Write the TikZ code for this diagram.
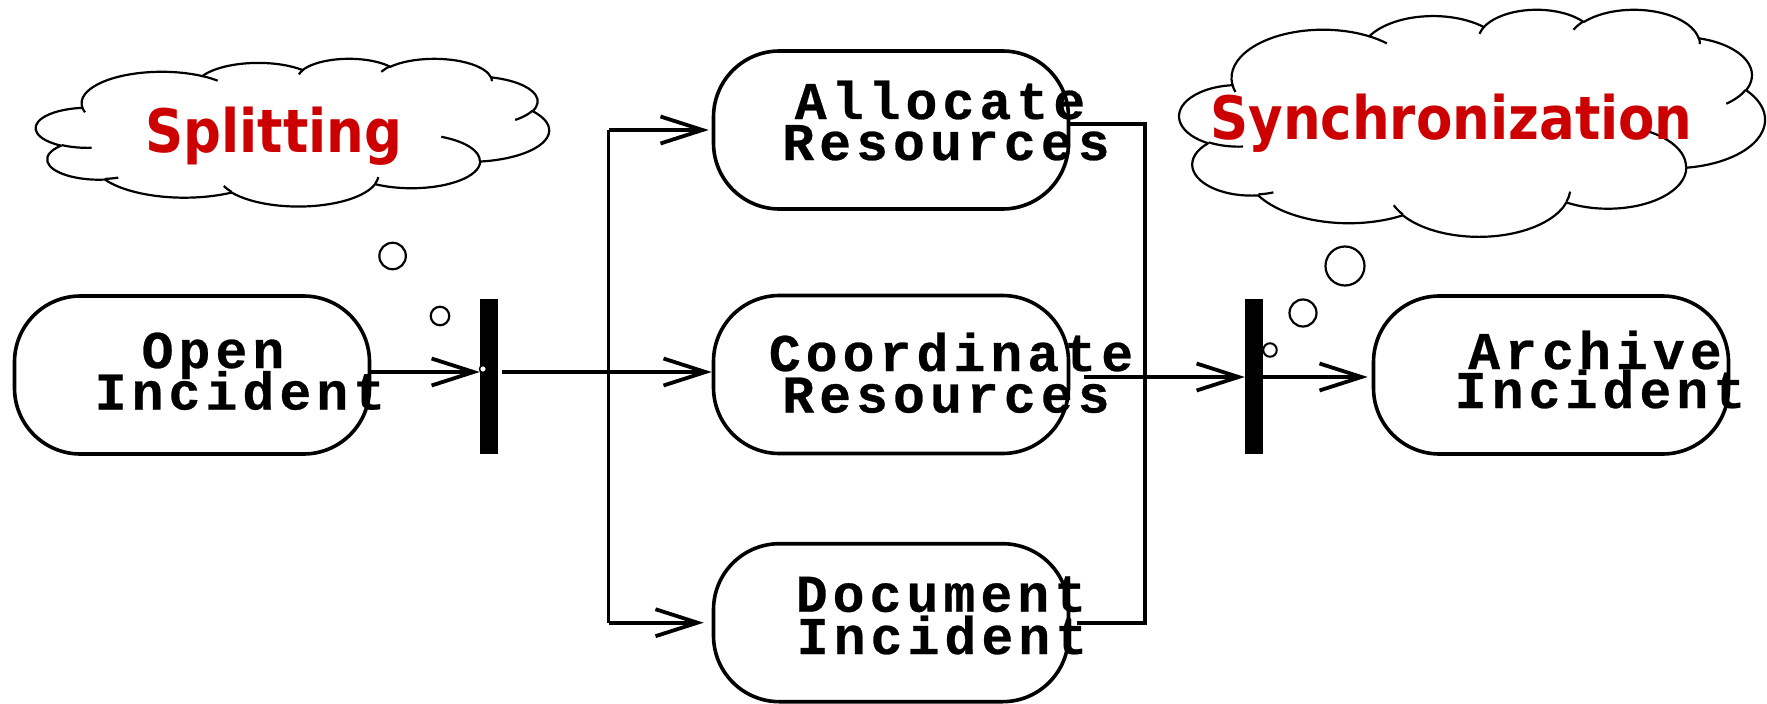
\documentclass[tikz,border=0pt]{standalone}
\usepackage{fontspec}
\usepackage{graphicx}
\newfontfamily\actfont[LetterSpace=9.7,BoldFeatures={FakeBold=0.5}]{Liberation Mono}
\newfontfamily\cloudfont{DejaVu Sans}
\usetikzlibrary{arrows.meta}
\definecolor{thinkred}{RGB}{204,0,0}
\tikzset{
  ooarc/.style n args={4}{x radius=#1, y radius=#2,
    start angle={atan2(#1*sin(#3),#2*cos(#3))},
    delta angle={atan2(#1*sin(#3+#4),#2*cos(#3+#4)) - atan2(#1*sin(#3),#2*cos(#3))
      - 360*round((atan2(#1*sin(#3+#4),#2*cos(#3+#4)) - atan2(#1*sin(#3),#2*cos(#3)) - (#4))/360)}},
  cloudline/.style={draw,line width=2.2pt,line join=round}
}
% Office-style cloud in a 43.2 x 43.2 box (y downwards)
\newcommand\oocloud{%
  \draw[cloudline,fill=white] (3.900,14.370)
    arc[ooarc={6.753}{9.190}{-190.4875}{123.7805}]
    arc[ooarc={5.333}{7.267}{-144.1024}{89.9452}]
    arc[ooarc={4.365}{5.945}{-145.8079}{99.7230}]
    arc[ooarc={4.857}{6.595}{-130.9861}{117.2417}]
    arc[ooarc={5.333}{7.273}{-78.7089}{109.0269}]
    arc[ooarc={6.775}{9.220}{-46.2673}{130.2690}]
    arc[ooarc={5.785}{7.867}{0.6250}{114.0333}]
    arc[ooarc={6.752}{9.215}{22.4516}{115.1726}]
    arc[ooarc={7.720}{10.543}{66.2426}{75.7110}]
    arc[ooarc={4.360}{5.918}{-274.9421}{146.7356}]
    arc[ooarc={4.345}{5.945}{-246.8285}{152.5189}]
    -- cycle;
  \draw[cloudline]
    (4.693,26.177) arc[ooarc={4.345}{5.945}{86.742}{26.4295}]
    (6.928,34.899) arc[ooarc={4.360}{5.918}{73.6105}{11.4475}]
    (16.478,39.090) arc[ooarc={6.752}{9.215}{137.6242}{14.0811}]
    (28.827,34.751) arc[ooarc={6.752}{9.215}{6.4533}{15.9984}]
    (34.129,22.954) arc[ooarc={5.785}{7.867}{-70.2924}{70.9174}]
    (41.798,15.354) arc[ooarc={5.333}{7.273}{30.3180}{27.7515}]
    (38.324,5.426) arc[ooarc={4.857}{6.595}{-13.7443}{14.8589}]
    (29.078,3.952) arc[ooarc={4.857}{6.595}{-149.1815}{18.1954}]
    (22.141,4.720) arc[ooarc={4.365}{5.945}{-163.4943}{17.6864}]
    (14.000,5.192) arc[ooarc={6.753}{9.190}{-66.7070}{12.3194}]
    (4.127,15.789) arc[ooarc={6.753}{9.190}{157.6544}{11.8582}];
}
\begin{document}
\begin{tikzpicture}[x=1pt,y=-1pt,
  act/.style={draw,line width=3.6pt,rounded corners=66pt,minimum width=355pt,minimum height=158pt,inner sep=0pt},
  lbl/.style={font=\actfont\bfseries\fontsize{53}{42}\selectfont,inner sep=0pt,anchor=base},
  barnode/.style={fill=black,minimum width=18pt,minimum height=155pt,inner sep=0pt},
  flow/.style={line width=3.8pt,-{Straight Barb[length=42pt,width=27pt]}},
  wire/.style={line width=3.6pt},
  bub/.style={circle,draw,line width=2.2pt,fill=white,inner sep=0pt},
  idea/.style={font=\cloudfont\bfseries\fontsize{53}{60}\selectfont,text=thinkred,inner sep=0pt}
]
\useasboundingbox (0,0) rectangle (1767,704);

% clouds
\begin{scope}[shift={(36,58.3)},x=11.875pt,y=-3.419pt]
  \oocloud
\end{scope}
\begin{scope}[shift={(1179.5,9)},x=13.55pt,y=-5.255pt]
  \oocloud
\end{scope}
\node[idea] (split) at (274,136.5) {\scalebox{1}[1.13]{Splitting}};
\node[idea] (sync) at (1451.5,123) {\scalebox{1}[1.13]{Synchronization}};

% activities
\node[act] (open) at (192,375) {};
\node[act] (alloc) at (891,130) {};
\node[act] (coord) at (891,374.5) {};
\node[act] (doc) at (891,622.7) {};
\node[act] (arch) at (1551,375) {};

\node[lbl] (open1) at (213,368) {Open};
\node[lbl] (open2) at (240,409.5) {Incident};
\node[lbl] (alloc1) at (940,119) {Allocate};
\node[lbl] (alloc2) at (946,160) {Resources};
\node[lbl] (coord1) at (951,371) {Coordinate};
\node[lbl] (coord2) at (946,412.5) {Resources};
\node[lbl] (doc1) at (941,611.7) {Document};
\node[lbl] (doc2) at (942,654) {Incident};
\node[lbl] (arch1) at (1595,369) {Archive};
\node[lbl] (arch2) at (1600,408) {Incident};

% bars
\node[barnode] (bar1) at (489,376) {};
\node[barnode] (bar2) at (1254,376) {};

\coordinate (rowL) at (0,372);
\coordinate (rowR) at (0,377);
\coordinate (sp) at (608.6,372);
\coordinate (jn) at (1145,377);

% connectors
\draw[flow] (open.east |- rowL) -- (bar1.west |- rowL);
\draw[flow] ([xshift=4pt]bar1.east |- rowL) -- (coord.west |- rowL);
\draw[wire] (sp |- alloc.west) -- (sp |- doc.west);
\draw[flow,shorten >=3pt] (sp |- alloc.west) -- (alloc.west);
\draw[flow,shorten >=8pt] (sp |- doc.west) -- (doc.west);
\draw[wire] ([yshift=6pt]alloc.east) -| (jn) |- ([xshift=7pt]doc.east);
\draw[flow] ([xshift=14pt]coord.east |- rowR) -- (bar2.west |- rowR);
\draw[flow,shorten >=4pt] (bar2.east |- rowR) -- (arch.west |- rowR);

% thought bubbles
\node[bub,minimum size=26.5pt] (b11) at (392.6,256) {};
\node[bub,minimum size=18.5pt] (b12) at (440,316) {};
\node[bub,minimum size=7pt,line width=1.5pt] (b13) at (483,369) {};
\node[bub,minimum size=39pt] (b21) at (1345,266) {};
\node[bub,minimum size=27pt] (b22) at (1303,313) {};
\node[bub,minimum size=13.5pt,line width=2pt] (b23) at (1270,350) {};
\end{tikzpicture}
\end{document}
